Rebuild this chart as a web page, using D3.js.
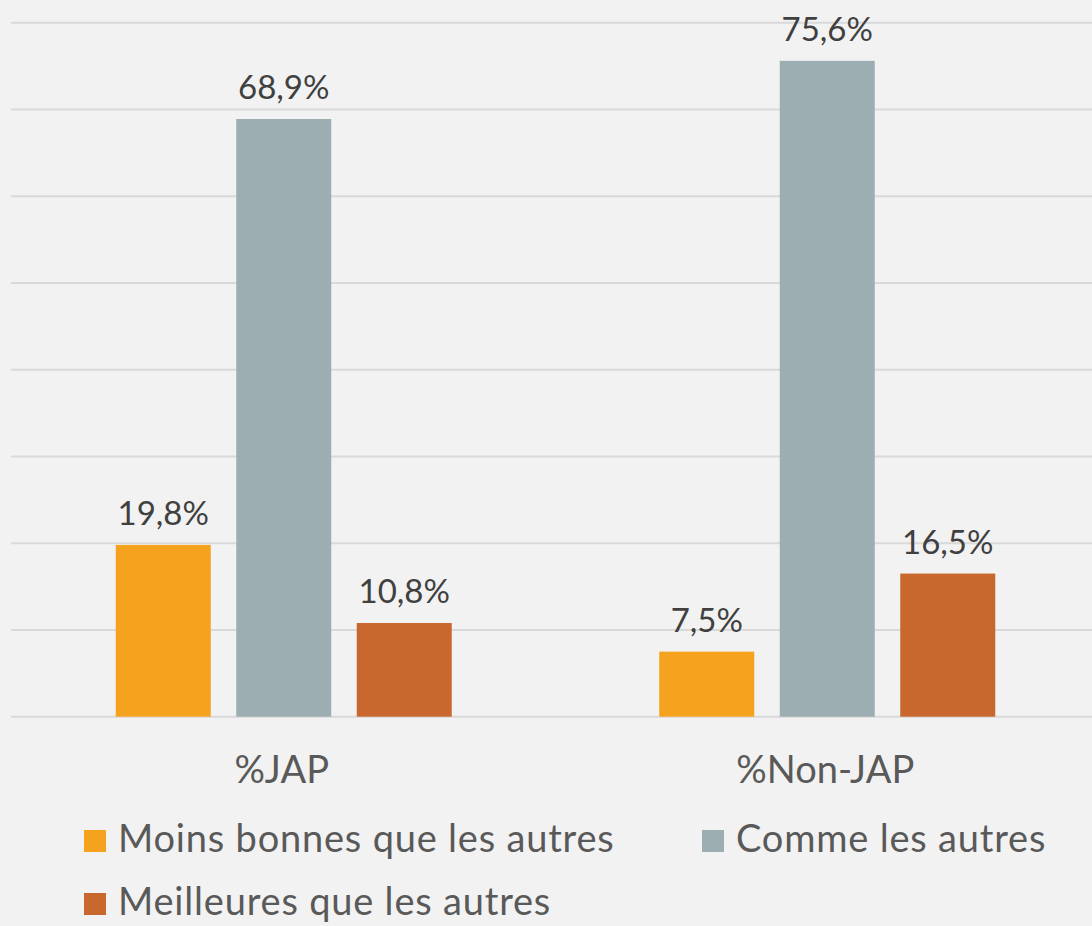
<!DOCTYPE html>
<html>
<head>
<meta charset="utf-8">
<script src="https://cdn.jsdelivr.net/npm/d3@7"></script>
<style>
  html, body { margin: 0; padding: 0; background: #f2f2f2; }
  svg { display: block; font-family: Lato, "Open Sans", sans-serif; }
</style>
</head>
<body>
<div id="main"></div>
<script>
// data
var categories = ["%JAP", "%Non-JAP"];
var seriesNames = ["Moins bonnes que les autres", "Comme les autres", "Meilleures que les autres"];
var seriesColors = ["#f5a31f", "#9daeb3", "#c8682f"];
var valuesJAP = [19.8, 68.9, 10.8];
var valuesNonJAP = [7.5, 75.6, 16.5];
var yTicks = [0, 10, 20, 30, 40, 50, 60, 70, 80];

var allValues = [valuesJAP, valuesNonJAP];

var width = 1092, height = 926;

var svg = d3.select("#main").append("svg")
  .attr("width", width)
  .attr("height", height);

svg.append("rect")
  .attr("width", width)
  .attr("height", height)
  .attr("fill", "#f2f2f2");

// scales
var y = d3.scaleLinear().domain([0, 80]).range([716.7, 22.7]);

var x0 = d3.scaleBand().domain(categories).range([12, 1099]).paddingInner(0).paddingOuter(0);

var x1 = d3.scaleBand().domain(seriesNames)
  .range([103.75, 439.75])
  .paddingInner(0.2116)
  .paddingOuter(0);

// gridlines
svg.append("g").selectAll("line")
  .data(yTicks)
  .enter().append("line")
  .attr("x1", 11)
  .attr("x2", width)
  .attr("y1", function(d) { return y(d); })
  .attr("y2", function(d) { return y(d); })
  .attr("stroke", "#d9d9d9")
  .attr("stroke-width", 2);

// bars
var groups = svg.append("g").selectAll("g")
  .data(categories)
  .enter().append("g")
  .attr("transform", function(d) { return "translate(" + x0(d) + ",0)"; });

groups.each(function(cat, ci) {
  var g = d3.select(this);
  var rows = seriesNames.map(function(s, si) { return { name: s, value: allValues[ci][si], color: seriesColors[si] }; });

  g.selectAll("rect")
    .data(rows)
    .enter().append("rect")
    .attr("x", function(d) { return x1(d.name); })
    .attr("y", function(d) { return y(d.value); })
    .attr("width", x1.bandwidth())
    .attr("height", function(d) { return y(0) - y(d.value); })
    .attr("fill", function(d) { return d.color; });

  // value labels
  g.selectAll("text.lbl")
    .data(rows)
    .enter().append("text")
    .attr("class", "lbl")
    .attr("x", function(d) { return x1(d.name) + x1.bandwidth() / 2; })
    .attr("y", function(d) { return y(d.value) - 20; })
    .attr("text-anchor", "middle")
    .attr("font-size", 33)
    .attr("fill", "#404040")
    .text(function(d) { return d.value.toFixed(1).replace(".", ",") + "%"; });
});

// category labels
svg.append("g").selectAll("text")
  .data(categories)
  .enter().append("text")
  .attr("x", function(d) { return x0(d) + x0.bandwidth() / 2 - 2; })
  .attr("y", 783)
  .attr("text-anchor", "middle")
  .attr("font-size", 38)
  .attr("fill", "#595959")
  .text(function(d) { return d; });

// legend
var legendPos = [[84, 830], [702, 830], [84, 893]];
var legend = svg.append("g").selectAll("g")
  .data(seriesNames)
  .enter().append("g")
  .attr("transform", function(d, i) { return "translate(" + legendPos[i][0] + "," + legendPos[i][1] + ")"; });

legend.append("rect")
  .attr("width", 22)
  .attr("height", 22)
  .attr("fill", function(d, i) { return seriesColors[i]; });

legend.append("text")
  .attr("x", 34)
  .attr("y", 22)
  .attr("font-size", 38)
  .attr("letter-spacing", 0.8)
  .attr("fill", "#595959")
  .text(function(d) { return d; });
</script>
</body>
</html>
